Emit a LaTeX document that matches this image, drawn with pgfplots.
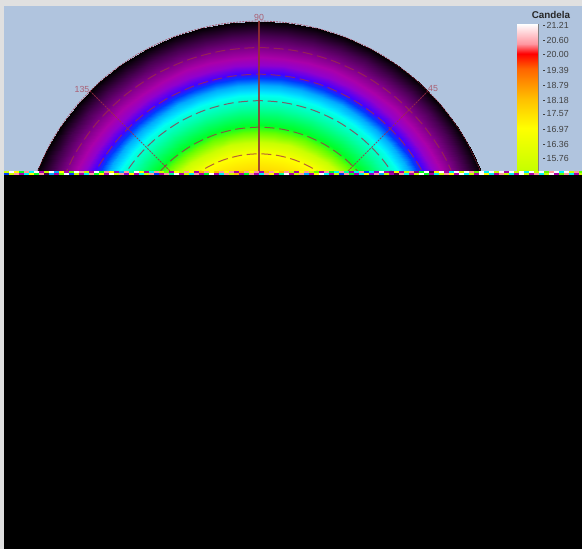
\documentclass[border=0pt]{standalone}
\usepackage{fontspec}
\setmainfont{Liberation Sans}
\usepackage{pgfplots}
\pgfplotsset{compat=1.18}
% axis units are picture pixels: x = px-259, y = 260-py, 1 px = 0.75pt
\definecolor{framegray}{RGB}{224,224,224}
\definecolor{skyblue}{RGB}{176,196,222}
\definecolor{gridred}{RGB}{160,45,70}
\definecolor{spokered}{RGB}{150,50,50}
\definecolor{anglelabel}{RGB}{170,95,115}
\pgfplotsset{colormap={candela}{
  rgb255(8cm)=(0,0,0) rgb255(8.8cm)=(70,0,80) rgb255(9.6cm)=(130,0,140)
  rgb255(10.4cm)=(170,0,170) rgb255(10.8cm)=(145,0,205) rgb255(11.2cm)=(70,0,255)
  rgb255(11.6cm)=(0,60,255) rgb255(12cm)=(0,170,255) rgb255(12.4cm)=(0,230,255)
  rgb255(12.6cm)=(0,255,240) rgb255(13.2cm)=(0,255,160) rgb255(14cm)=(0,255,40)
  rgb255(14.5cm)=(100,255,0) rgb255(15.3cm)=(200,255,0) rgb255(16.97cm)=(255,255,0)
  rgb255(18.18cm)=(255,190,0) rgb255(19.39cm)=(255,100,0) rgb255(20cm)=(255,0,0)
  rgb255(20.4cm)=(255,150,160) rgb255(21.21cm)=(255,255,255)
}}
\begin{document}
\begin{tikzpicture}
\begin{axis}[
  hide axis, scale only axis,
  width=436.5pt, height=411.75pt,
  xmin=-259, xmax=323, ymin=-289, ymax=260,
  colormap name=candela,
  point meta min=8, point meta max=21.21,
]
\fill[framegray] (axis cs:-259,-289) rectangle (axis cs:323,260);
\fill[skyblue] (axis cs:-255,86) rectangle (axis cs:323,254);

% radial intensity map, (angle,radius)[candela]
\addplot[surf, shader=interp, data cs=polar, mesh/rows=17, mesh/cols=21, point meta=explicit] coordinates {
(20,80)[18.18] (27,80)[18.18] (34,80)[18.18] (41,80)[18.18] (48,80)[18.18] (55,80)[18.18] (62,80)[18.18] (69,80)[18.18] (76,80)[18.18] (83,80)[18.18] (90,80)[18.18] (97,80)[18.18] (104,80)[18.18] (111,80)[18.18] (118,80)[18.18] (125,80)[18.18] (132,80)[18.18] (139,80)[18.18] (146,80)[18.18] (153,80)[18.18] (160,80)[18.18]
(20,92)[17.57] (27,92)[17.57] (34,92)[17.57] (41,92)[17.57] (48,92)[17.57] (55,92)[17.57] (62,92)[17.57] (69,92)[17.57] (76,92)[17.57] (83,92)[17.57] (90,92)[17.57] (97,92)[17.57] (104,92)[17.57] (111,92)[17.57] (118,92)[17.57] (125,92)[17.57] (132,92)[17.57] (139,92)[17.57] (146,92)[17.57] (153,92)[17.57] (160,92)[17.57]
(20,105)[16.97] (27,105)[16.97] (34,105)[16.97] (41,105)[16.97] (48,105)[16.97] (55,105)[16.97] (62,105)[16.97] (69,105)[16.97] (76,105)[16.97] (83,105)[16.97] (90,105)[16.97] (97,105)[16.97] (104,105)[16.97] (111,105)[16.97] (118,105)[16.97] (125,105)[16.97] (132,105)[16.97] (139,105)[16.97] (146,105)[16.97] (153,105)[16.97] (160,105)[16.97]
(20,118)[15.3] (27,118)[15.3] (34,118)[15.3] (41,118)[15.3] (48,118)[15.3] (55,118)[15.3] (62,118)[15.3] (69,118)[15.3] (76,118)[15.3] (83,118)[15.3] (90,118)[15.3] (97,118)[15.3] (104,118)[15.3] (111,118)[15.3] (118,118)[15.3] (125,118)[15.3] (132,118)[15.3] (139,118)[15.3] (146,118)[15.3] (153,118)[15.3] (160,118)[15.3]
(20,128)[14.5] (27,128)[14.5] (34,128)[14.5] (41,128)[14.5] (48,128)[14.5] (55,128)[14.5] (62,128)[14.5] (69,128)[14.5] (76,128)[14.5] (83,128)[14.5] (90,128)[14.5] (97,128)[14.5] (104,128)[14.5] (111,128)[14.5] (118,128)[14.5] (125,128)[14.5] (132,128)[14.5] (139,128)[14.5] (146,128)[14.5] (153,128)[14.5] (160,128)[14.5]
(20,135)[14] (27,135)[14] (34,135)[14] (41,135)[14] (48,135)[14] (55,135)[14] (62,135)[14] (69,135)[14] (76,135)[14] (83,135)[14] (90,135)[14] (97,135)[14] (104,135)[14] (111,135)[14] (118,135)[14] (125,135)[14] (132,135)[14] (139,135)[14] (146,135)[14] (153,135)[14] (160,135)[14]
(20,152)[13.2] (27,152)[13.2] (34,152)[13.2] (41,152)[13.2] (48,152)[13.2] (55,152)[13.2] (62,152)[13.2] (69,152)[13.2] (76,152)[13.2] (83,152)[13.2] (90,152)[13.2] (97,152)[13.2] (104,152)[13.2] (111,152)[13.2] (118,152)[13.2] (125,152)[13.2] (132,152)[13.2] (139,152)[13.2] (146,152)[13.2] (153,152)[13.2] (160,152)[13.2]
(20,165)[12.6] (27,165)[12.6] (34,165)[12.6] (41,165)[12.6] (48,165)[12.6] (55,165)[12.6] (62,165)[12.6] (69,165)[12.6] (76,165)[12.6] (83,165)[12.6] (90,165)[12.6] (97,165)[12.6] (104,165)[12.6] (111,165)[12.6] (118,165)[12.6] (125,165)[12.6] (132,165)[12.6] (139,165)[12.6] (146,165)[12.6] (153,165)[12.6] (160,165)[12.6]
(20,168)[12.4] (27,168)[12.4] (34,168)[12.4] (41,168)[12.4] (48,168)[12.4] (55,168)[12.4] (62,168)[12.4] (69,168)[12.4] (76,168)[12.4] (83,168)[12.4] (90,168)[12.4] (97,168)[12.4] (104,168)[12.4] (111,168)[12.4] (118,168)[12.4] (125,168)[12.4] (132,168)[12.4] (139,168)[12.4] (146,168)[12.4] (153,168)[12.4] (160,168)[12.4]
(20,175)[12] (27,175)[12] (34,175)[12] (41,175)[12] (48,175)[12] (55,175)[12] (62,175)[12] (69,175)[12] (76,175)[12] (83,175)[12] (90,175)[12] (97,175)[12] (104,175)[12] (111,175)[12] (118,175)[12] (125,175)[12] (132,175)[12] (139,175)[12] (146,175)[12] (153,175)[12] (160,175)[12]
(20,182)[11.6] (27,182)[11.6] (34,182)[11.6] (41,182)[11.6] (48,182)[11.6] (55,182)[11.6] (62,182)[11.6] (69,182)[11.6] (76,182)[11.6] (83,182)[11.6] (90,182)[11.6] (97,182)[11.6] (104,182)[11.6] (111,182)[11.6] (118,182)[11.6] (125,182)[11.6] (132,182)[11.6] (139,182)[11.6] (146,182)[11.6] (153,182)[11.6] (160,182)[11.6]
(20,187)[11.2] (27,187)[11.2] (34,187)[11.2] (41,187)[11.2] (48,187)[11.2] (55,187)[11.2] (62,187)[11.2] (69,187)[11.2] (76,187)[11.2] (83,187)[11.2] (90,187)[11.2] (97,187)[11.2] (104,187)[11.2] (111,187)[11.2] (118,187)[11.2] (125,187)[11.2] (132,187)[11.2] (139,187)[11.2] (146,187)[11.2] (153,187)[11.2] (160,187)[11.2]
(20,195)[10.8] (27,195)[10.8] (34,195)[10.8] (41,195)[10.8] (48,195)[10.8] (55,195)[10.8] (62,195)[10.8] (69,195)[10.8] (76,195)[10.8] (83,195)[10.8] (90,195)[10.8] (97,195)[10.8] (104,195)[10.8] (111,195)[10.8] (118,195)[10.8] (125,195)[10.8] (132,195)[10.8] (139,195)[10.8] (146,195)[10.8] (153,195)[10.8] (160,195)[10.8]
(20,203)[10.4] (27,203)[10.4] (34,203)[10.4] (41,203)[10.4] (48,203)[10.4] (55,203)[10.4] (62,203)[10.4] (69,203)[10.4] (76,203)[10.4] (83,203)[10.4] (90,203)[10.4] (97,203)[10.4] (104,203)[10.4] (111,203)[10.4] (118,203)[10.4] (125,203)[10.4] (132,203)[10.4] (139,203)[10.4] (146,203)[10.4] (153,203)[10.4] (160,203)[10.4]
(20,212)[9.6] (27,212)[9.6] (34,212)[9.6] (41,212)[9.6] (48,212)[9.6] (55,212)[9.6] (62,212)[9.6] (69,212)[9.6] (76,212)[9.6] (83,212)[9.6] (90,212)[9.6] (97,212)[9.6] (104,212)[9.6] (111,212)[9.6] (118,212)[9.6] (125,212)[9.6] (132,212)[9.6] (139,212)[9.6] (146,212)[9.6] (153,212)[9.6] (160,212)[9.6]
(20,225)[8.8] (27,225)[8.8] (34,225)[8.8] (41,225)[8.8] (48,225)[8.8] (55,225)[8.8] (62,225)[8.8] (69,225)[8.8] (76,225)[8.8] (83,225)[8.8] (90,225)[8.8] (97,225)[8.8] (104,225)[8.8] (111,225)[8.8] (118,225)[8.8] (125,225)[8.8] (132,225)[8.8] (139,225)[8.8] (146,225)[8.8] (153,225)[8.8] (160,225)[8.8]
(20,239)[8] (27,239)[8] (34,239)[8] (41,239)[8] (48,239)[8] (55,239)[8] (62,239)[8] (69,239)[8] (76,239)[8] (83,239)[8] (90,239)[8] (97,239)[8] (104,239)[8] (111,239)[8] (118,239)[8] (125,239)[8] (132,239)[8] (139,239)[8] (146,239)[8] (153,239)[8] (160,239)[8]
};

% dashed rings
\addplot[gridred, opacity=.75, line width=.75pt, dash pattern=on 7.5pt off 3.5pt, smooth, data cs=polar] coordinates {(20,212.4) (30,212.4) (40,212.4) (50,212.4) (60,212.4) (70,212.4) (80,212.4) (90,212.4) (100,212.4) (110,212.4) (120,212.4) (130,212.4) (140,212.4) (150,212.4) (160,212.4)};
\addplot[gridred, opacity=.75, line width=.75pt, dash pattern=on 7.5pt off 3.5pt, smooth, data cs=polar] coordinates {(20,185.8) (30,185.8) (40,185.8) (50,185.8) (60,185.8) (70,185.8) (80,185.8) (90,185.8) (100,185.8) (110,185.8) (120,185.8) (130,185.8) (140,185.8) (150,185.8) (160,185.8)};
\addplot[gridred, opacity=.75, line width=.75pt, dash pattern=on 7.5pt off 3.5pt, smooth, data cs=polar] coordinates {(20,159.3) (30,159.3) (40,159.3) (50,159.3) (60,159.3) (70,159.3) (80,159.3) (90,159.3) (100,159.3) (110,159.3) (120,159.3) (130,159.3) (140,159.3) (150,159.3) (160,159.3)};
\addplot[gridred, opacity=.75, line width=.75pt, dash pattern=on 7.5pt off 3.5pt, smooth, data cs=polar] coordinates {(20,132.8) (30,132.8) (40,132.8) (50,132.8) (60,132.8) (70,132.8) (80,132.8) (90,132.8) (100,132.8) (110,132.8) (120,132.8) (130,132.8) (140,132.8) (150,132.8) (160,132.8)};
\addplot[gridred, opacity=.75, line width=.75pt, dash pattern=on 7.5pt off 3.5pt, smooth, data cs=polar] coordinates {(20,106.2) (30,106.2) (40,106.2) (50,106.2) (60,106.2) (70,106.2) (80,106.2) (90,106.2) (100,106.2) (110,106.2) (120,106.2) (130,106.2) (140,106.2) (150,106.2) (160,106.2)};
% rim
\addplot[gridred, opacity=.7, line width=.6pt, dash pattern=on 1.5pt off .8pt, smooth, data cs=polar] coordinates {(20,239) (30,239) (40,239) (50,239) (60,239) (70,239) (80,239) (90,239) (100,239) (110,239) (120,239) (130,239) (140,239) (150,239) (160,239)};
% spokes
\addplot[spokered, opacity=.85, line width=.8pt, data cs=polar] coordinates {(90,239) (90,80)};
\addplot[gridred, opacity=.8, line width=.6pt, dash pattern=on 1.5pt off .75pt, data cs=polar] coordinates {(135,239) (135,80)};
\addplot[gridred, opacity=.8, line width=.6pt, dash pattern=on 1.5pt off .75pt, data cs=polar] coordinates {(45,239) (45,80)};

% black block below the map
\fill[black] (axis cs:-255,-289) rectangle (axis cs:323,86);

% colour bar
\addplot[surf, shader=interp, mesh/rows=2, mesh/cols=2, point meta=explicit] coordinates {
(258,88)[15.17] (279,88)[15.17]
(258,236)[21.21] (279,236)[21.21]
};
\addplot[color=gray, line width=.6pt] coordinates {(279.5,88) (279.5,236)};

% scrambled strip along the cut edge, one colour per cell
\addplot[surf, shader=flat corner, mesh/rows=3, mesh/cols=117, point meta=explicit] coordinates {
(-255,86)[11.6] (-250,86)[15.3] (-245,86)[20.4] (-240,86)[10.4] (-235,86)[12.5] (-230,86)[16.97] (-225,86)[14] (-220,86)[20.4] (-215,86)[8.8] (-210,86)[12] (-205,86)[10.4] (-200,86)[14.5] (-195,86)[21.2] (-190,86)[11.6] (-185,86)[15.3] (-180,86)[10.4] (-175,86)[12.5] (-170,86)[20.4] (-165,86)[14] (-160,86)[16.97] (-155,86)[10.4] (-150,86)[21.2] (-145,86)[15.3] (-140,86)[20.4] (-135,86)[10.8] (-130,86)[16.97] (-125,86)[10.4] (-120,86)[12.5] (-115,86)[15.3] (-110,86)[20.4] (-105,86)[11.6] (-100,86)[10.4] (-95,86)[20.4] (-90,86)[13.2] (-85,86)[21.2] (-80,86)[10.4] (-75,86)[15.3] (-70,86)[12.5] (-65,86)[20.4] (-60,86)[10.4] (-55,86)[14] (-50,86)[21.2] (-45,86)[10.4] (-40,86)[12.5] (-35,86)[20.4] (-30,86)[15.3] (-25,86)[18.18] (-20,86)[10.4] (-15,86)[14] (-10,86)[20.4] (-5,86)[10.4] (0,86)[12.5] (5,86)[20.4] (10,86)[16.97] (15,86)[10.4] (20,86)[13.2] (25,86)[21.2] (30,86)[10.4] (35,86)[15.3] (40,86)[20.4] (45,86)[12] (50,86)[10.4] (55,86)[16.97] (60,86)[21.2] (65,86)[12.5] (70,86)[10.4] (75,86)[15.3] (80,86)[11.6] (85,86)[20.4] (90,86)[14] (95,86)[10.4] (100,86)[12.5] (105,86)[16.97] (110,86)[10.8] (115,86)[20.4] (120,86)[12] (125,86)[15.3] (130,86)[10.4] (135,86)[8.8] (140,86)[20.4] (145,86)[12.5] (150,86)[10.4] (155,86)[15.3] (160,86)[21.2] (165,86)[14] (170,86)[10.4] (175,86)[12.5] (180,86)[15.3] (185,86)[20.4] (190,86)[16.97] (195,86)[10.4] (200,86)[21.2] (205,86)[12.5] (210,86)[15.3] (215,86)[10.4] (220,86)[21.2] (225,86)[16.97] (230,86)[12.5] (235,86)[10.4] (240,86)[20.4] (245,86)[15.3] (250,86)[12.5] (255,86)[10.4] (260,86)[21.2] (265,86)[15.3] (270,86)[10.4] (275,86)[20.4] (280,86)[12.5] (285,86)[15.3] (290,86)[21.2] (295,86)[10.4] (300,86)[14.5] (305,86)[20.4] (310,86)[12.5] (315,86)[10.4] (320,86)[15.3] (323,86)[15.3]
(-255,87.6)[15.3] (-250,87.6)[21.2] (-245,87.6)[16.97] (-240,87.6)[14] (-235,87.6)[20.4] (-230,87.6)[12.5] (-225,87.6)[21.2] (-220,87.6)[10.4] (-215,87.6)[15.3] (-210,87.6)[21.2] (-205,87.6)[12] (-200,87.6)[16.97] (-195,87.6)[10.4] (-190,87.6)[14.5] (-185,87.6)[21.2] (-180,87.6)[20.4] (-175,87.6)[15.3] (-170,87.6)[10.4] (-165,87.6)[21.2] (-160,87.6)[14] (-155,87.6)[20.4] (-150,87.6)[16.97] (-145,87.6)[10.8] (-140,87.6)[12] (-135,87.6)[20.4] (-130,87.6)[13.2] (-125,87.6)[21.2] (-120,87.6)[16.97] (-115,87.6)[10.4] (-110,87.6)[12.5] (-105,87.6)[20.4] (-100,87.6)[15.3] (-95,87.6)[14.5] (-90,87.6)[10.4] (-85,87.6)[16.97] (-80,87.6)[15.3] (-75,87.6)[20.4] (-70,87.6)[16.97] (-65,87.6)[10.4] (-60,87.6)[18.18] (-55,87.6)[20.4] (-50,87.6)[16.97] (-45,87.6)[18.18] (-40,87.6)[20.4] (-35,87.6)[16.97] (-30,87.6)[20.4] (-25,87.6)[10.4] (-20,87.6)[18.18] (-15,87.6)[20.4] (-10,87.6)[16.97] (-5,87.6)[20.4] (0,87.6)[10.4] (5,87.6)[18.18] (10,87.6)[20.4] (15,87.6)[16.97] (20,87.6)[18.18] (25,87.6)[20.4] (30,87.6)[15.3] (35,87.6)[10.4] (40,87.6)[16.97] (45,87.6)[20.4] (50,87.6)[15.3] (55,87.6)[14.5] (60,87.6)[10.4] (65,87.6)[20.4] (70,87.6)[14] (75,87.6)[12.5] (80,87.6)[20.4] (85,87.6)[13.2] (90,87.6)[10.4] (95,87.6)[12.5] (100,87.6)[20.4] (105,87.6)[11.6] (110,87.6)[12.5] (115,87.6)[10.8] (120,87.6)[21.2] (125,87.6)[10.4] (130,87.6)[9.6] (135,87.6)[16.97] (140,87.6)[10.4] (145,87.6)[15.3] (150,87.6)[20.4] (155,87.6)[9.6] (160,87.6)[14] (165,87.6)[21.2] (170,87.6)[8.8] (175,87.6)[16.97] (180,87.6)[21.2] (185,87.6)[10.4] (190,87.6)[12.5] (195,87.6)[21.2] (200,87.6)[15.3] (205,87.6)[21.2] (210,87.6)[20.4] (215,87.6)[14.5] (220,87.6)[21.2] (225,87.6)[12.5] (230,87.6)[21.2] (235,87.6)[15.3] (240,87.6)[21.2] (245,87.6)[10.4] (250,87.6)[21.2] (255,87.6)[15.3] (260,87.6)[21.2] (265,87.6)[12.5] (270,87.6)[21.2] (275,87.6)[15.3] (280,87.6)[21.2] (285,87.6)[14.5] (290,87.6)[20.4] (295,87.6)[21.2] (300,87.6)[12.5] (305,87.6)[21.2] (310,87.6)[15.3] (315,87.6)[20.4] (320,87.6)[14.5] (323,87.6)[14.5]
(-255,89)[15] (-250,89)[15] (-245,89)[15] (-240,89)[15] (-235,89)[15] (-230,89)[15] (-225,89)[15] (-220,89)[15] (-215,89)[15] (-210,89)[15] (-205,89)[15] (-200,89)[15] (-195,89)[15] (-190,89)[15] (-185,89)[15] (-180,89)[15] (-175,89)[15] (-170,89)[15] (-165,89)[15] (-160,89)[15] (-155,89)[15] (-150,89)[15] (-145,89)[15] (-140,89)[15] (-135,89)[15] (-130,89)[15] (-125,89)[15] (-120,89)[15] (-115,89)[15] (-110,89)[15] (-105,89)[15] (-100,89)[15] (-95,89)[15] (-90,89)[15] (-85,89)[15] (-80,89)[15] (-75,89)[15] (-70,89)[15] (-65,89)[15] (-60,89)[15] (-55,89)[15] (-50,89)[15] (-45,89)[15] (-40,89)[15] (-35,89)[15] (-30,89)[15] (-25,89)[15] (-20,89)[15] (-15,89)[15] (-10,89)[15] (-5,89)[15] (0,89)[15] (5,89)[15] (10,89)[15] (15,89)[15] (20,89)[15] (25,89)[15] (30,89)[15] (35,89)[15] (40,89)[15] (45,89)[15] (50,89)[15] (55,89)[15] (60,89)[15] (65,89)[15] (70,89)[15] (75,89)[15] (80,89)[15] (85,89)[15] (90,89)[15] (95,89)[15] (100,89)[15] (105,89)[15] (110,89)[15] (115,89)[15] (120,89)[15] (125,89)[15] (130,89)[15] (135,89)[15] (140,89)[15] (145,89)[15] (150,89)[15] (155,89)[15] (160,89)[15] (165,89)[15] (170,89)[15] (175,89)[15] (180,89)[15] (185,89)[15] (190,89)[15] (195,89)[15] (200,89)[15] (205,89)[15] (210,89)[15] (215,89)[15] (220,89)[15] (225,89)[15] (230,89)[15] (235,89)[15] (240,89)[15] (245,89)[15] (250,89)[15] (255,89)[15] (260,89)[15] (265,89)[15] (270,89)[15] (275,89)[15] (280,89)[15] (285,89)[15] (290,89)[15] (295,89)[15] (300,89)[15] (305,89)[15] (310,89)[15] (315,89)[15] (320,89)[15] (323,89)[15]
};

\addplot[only marks, mark=-, mark size=1.1pt, mark options={black!75}, point meta=explicit symbolic,
  nodes near coords, nodes near coords align={right},
  every node near coord/.append style={font=\fontsize{6.6}{7}\selectfont, text=black!75, inner sep=.6pt, xshift=1.2pt}]
coordinates {
(285,235)[21.21] (285,220)[20.60] (285,206)[20.00] (285,190)[19.39] (285,175)[18.79]
(285,160)[18.18] (285,146)[17.57] (285,131)[16.97] (285,116)[16.36] (285,102)[15.76]
};
\node[font=\bfseries\fontsize{7.4}{8}\selectfont, text=black!85] at (axis cs:292,245) {Candela};

% angle labels
\node[font=\fontsize{6.6}{7}\selectfont, text=anglelabel, inner sep=0] at (axis cs:0,242.5) {90};
\node[font=\fontsize{6.6}{7}\selectfont, text=anglelabel, inner sep=0] at (axis cs:-177,171) {135};
\node[font=\fontsize{6.6}{7}\selectfont, text=anglelabel, inner sep=0] at (axis cs:174,171) {45};
\end{axis}
\end{tikzpicture}
\end{document}
